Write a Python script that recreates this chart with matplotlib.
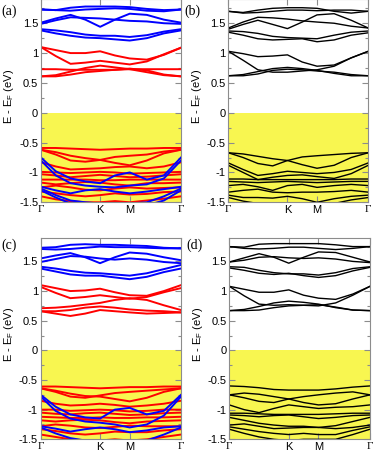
import numpy as np
import matplotlib
matplotlib.use('Agg')
from matplotlib import pyplot as plt
from matplotlib.ticker import MultipleLocator

# k-path sample positions (Γ-K-M-Γ) and labels
kpts = [0.0, 0.1667, 0.3333, 0.5, 0.6667, 0.8333, 1.0, 1.1925, 1.385, 1.5774]
kticks = [0.0, 0.6667, 1.0, 1.5774]
klabels = ['Γ', 'K', 'M', 'Γ']
yticks = [-1.5, -1, -0.5, 0, 0.5, 1, 1.5]
yticklabels = ['-1.5', '-1', '-0.5', '0', '0.5', '1', '1.5']
panel_tags = ['(a)', '(b)', '(c)', '(d)']

# ---- panel (a) ----
a_blue = [
    [1.73, 1.72, 1.76, 1.78, 1.78, 1.78, 1.77, 1.74, 1.72, 1.73],
    [1.73, 1.72, 1.71, 1.73, 1.74, 1.75, 1.74, 1.71, 1.70, 1.73],
    [1.51, 1.58, 1.64, 1.56, 1.44, 1.56, 1.66, 1.64, 1.56, 1.51],
    [1.49, 1.55, 1.60, 1.59, 1.58, 1.56, 1.54, 1.53, 1.50, 1.49],
    [1.40, 1.38, 1.35, 1.31, 1.29, 1.29, 1.27, 1.30, 1.36, 1.40],
    [1.38, 1.33, 1.29, 1.26, 1.25, 1.23, 1.21, 1.25, 1.33, 1.38],
    [-0.75, -0.98, -1.10, -1.15, -1.18, -1.05, -1.00, -1.12, -1.05, -0.75],
    [-0.80, -1.05, -1.18, -1.22, -1.24, -1.25, -1.22, -1.20, -1.10, -0.80],
    [-1.24, -1.30, -1.35, -1.30, -1.28, -1.32, -1.35, -1.32, -1.28, -1.24],
    [-1.27, -1.38, -1.47, -1.50, -1.52, -1.52, -1.52, -1.50, -1.40, -1.27],
    [-1.30, -1.42, -1.52, -1.55, -1.55, -1.55, -1.55, -1.55, -1.47, -1.30],
]
a_red = [
    [1.10, 1.05, 1.00, 1.00, 1.03, 0.96, 0.91, 0.89, 0.97, 1.09],
    [1.10, 0.95, 0.82, 0.84, 0.87, 0.84, 0.81, 0.86, 0.98, 1.09],
    [0.73, 0.73, 0.72, 0.72, 0.72, 0.72, 0.73, 0.73, 0.73, 0.73],
    [0.61, 0.63, 0.69, 0.75, 0.79, 0.76, 0.73, 0.68, 0.63, 0.61],
    [0.61, 0.61, 0.64, 0.68, 0.70, 0.72, 0.74, 0.71, 0.64, 0.61],
    [-0.59, -0.59, -0.60, -0.61, -0.62, -0.61, -0.60, -0.60, -0.59, -0.59],
    [-0.62, -0.66, -0.72, -0.76, -0.79, -0.84, -0.88, -0.80, -0.68, -0.62],
    [-0.62, -0.70, -0.80, -0.82, -0.79, -0.74, -0.72, -0.70, -0.65, -0.62],
    [-0.83, -0.90, -0.95, -0.94, -0.93, -0.91, -0.90, -0.93, -0.90, -0.83],
    [-0.99, -1.00, -1.01, -1.00, -0.99, -1.00, -1.02, -1.01, -1.00, -0.99],
    [-1.03, -1.05, -1.08, -1.06, -1.04, -1.06, -1.08, -1.07, -1.05, -1.03],
    [-1.12, -1.12, -1.12, -1.12, -1.13, -1.13, -1.12, -1.12, -1.12, -1.12],
    [-1.17, -1.20, -1.18, -1.16, -1.17, -1.20, -1.22, -1.18, -1.18, -1.17],
    [-1.25, -1.22, -1.25, -1.29, -1.30, -1.27, -1.25, -1.27, -1.26, -1.25],
    [-1.32, -1.35, -1.38, -1.40, -1.38, -1.35, -1.37, -1.36, -1.33, -1.32],
    [-1.40, -1.45, -1.48, -1.50, -1.50, -1.48, -1.50, -1.47, -1.44, -1.40],
]

# ---- panel (b) ----
b_black = [
    [1.70, 1.68, 1.72, 1.75, 1.76, 1.76, 1.75, 1.70, 1.67, 1.70],
    [1.70, 1.67, 1.68, 1.70, 1.72, 1.72, 1.71, 1.72, 1.72, 1.70],
    [1.42, 1.52, 1.60, 1.59, 1.57, 1.54, 1.52, 1.50, 1.45, 1.42],
    [1.40, 1.48, 1.55, 1.48, 1.41, 1.52, 1.64, 1.66, 1.55, 1.42],
    [1.37, 1.36, 1.33, 1.28, 1.26, 1.25, 1.24, 1.30, 1.35, 1.37],
    [1.35, 1.30, 1.24, 1.22, 1.23, 1.24, 1.19, 1.22, 1.30, 1.34],
    [1.03, 0.99, 0.94, 0.95, 0.97, 0.85, 0.78, 0.80, 0.92, 1.03],
    [1.03, 0.88, 0.72, 0.68, 0.68, 0.70, 0.72, 0.78, 0.92, 1.03],
    [0.62, 0.64, 0.69, 0.74, 0.76, 0.74, 0.71, 0.66, 0.62, 0.62],
    [0.62, 0.62, 0.65, 0.71, 0.73, 0.72, 0.70, 0.68, 0.64, 0.62],
    [-0.67, -0.69, -0.73, -0.77, -0.80, -0.87, -0.93, -0.88, -0.75, -0.67],
    [-0.67, -0.75, -0.85, -0.89, -0.80, -0.74, -0.72, -0.70, -0.68, -0.67],
    [-0.84, -0.95, -1.05, -1.02, -0.98, -1.00, -1.02, -1.00, -0.95, -0.84],
    [-0.88, -1.00, -1.12, -1.08, -1.05, -1.04, -1.07, -1.10, -1.02, -0.88],
    [-1.11, -1.11, -1.12, -1.12, -1.12, -1.12, -1.12, -1.12, -1.11, -1.11],
    [-1.15, -1.16, -1.17, -1.16, -1.15, -1.16, -1.17, -1.16, -1.15, -1.15],
    [-1.22, -1.20, -1.24, -1.30, -1.22, -1.20, -1.25, -1.22, -1.20, -1.22],
    [-1.33, -1.30, -1.28, -1.33, -1.34, -1.33, -1.33, -1.32, -1.30, -1.33],
    [-1.38, -1.42, -1.42, -1.43, -1.40, -1.44, -1.50, -1.44, -1.40, -1.38],
    [-1.42, -1.48, -1.52, -1.55, -1.55, -1.55, -1.55, -1.52, -1.46, -1.42],
]

# ---- panel (c) ----
c_blue = [
    [1.73, 1.74, 1.78, 1.79, 1.78, 1.78, 1.77, 1.76, 1.73, 1.72],
    [1.71, 1.70, 1.71, 1.73, 1.75, 1.74, 1.74, 1.73, 1.72, 1.72],
    [1.55, 1.60, 1.64, 1.57, 1.47, 1.57, 1.65, 1.63, 1.57, 1.52],
    [1.49, 1.54, 1.59, 1.58, 1.55, 1.53, 1.55, 1.53, 1.49, 1.47],
    [1.41, 1.38, 1.34, 1.31, 1.30, 1.28, 1.26, 1.30, 1.37, 1.44],
    [1.38, 1.33, 1.28, 1.26, 1.26, 1.23, 1.20, 1.24, 1.32, 1.38],
    [-0.75, -0.95, -1.08, -1.13, -1.15, -1.00, -0.97, -1.08, -1.02, -0.75],
    [-0.78, -1.02, -1.15, -1.20, -1.22, -1.25, -1.30, -1.25, -1.10, -0.78],
    [-1.28, -1.32, -1.37, -1.33, -1.30, -1.33, -1.38, -1.35, -1.30, -1.28],
    [-1.30, -1.40, -1.48, -1.52, -1.52, -1.52, -1.52, -1.52, -1.42, -1.30],
]
c_red = [
    [1.10, 1.05, 1.00, 1.01, 1.04, 0.98, 0.93, 0.92, 1.00, 1.10],
    [1.07, 0.97, 0.88, 0.90, 0.93, 0.90, 0.87, 0.90, 0.98, 1.05],
    [0.71, 0.72, 0.74, 0.77, 0.80, 0.85, 0.88, 0.85, 0.76, 0.68],
    [0.66, 0.62, 0.58, 0.62, 0.68, 0.66, 0.64, 0.62, 0.63, 0.64],
    [0.66, 0.66, 0.68, 0.72, 0.74, 0.72, 0.69, 0.67, 0.66, 0.64],
    [-0.61, -0.61, -0.62, -0.63, -0.64, -0.63, -0.62, -0.62, -0.61, -0.61],
    [-0.64, -0.68, -0.73, -0.77, -0.78, -0.82, -0.86, -0.80, -0.70, -0.64],
    [-0.64, -0.70, -0.78, -0.80, -0.76, -0.72, -0.70, -0.68, -0.66, -0.64],
    [-0.85, -0.90, -0.93, -0.92, -0.90, -0.92, -0.95, -0.93, -0.90, -0.85],
    [-1.00, -1.00, -1.02, -1.01, -1.00, -1.01, -1.03, -1.02, -1.00, -1.00],
    [-1.05, -1.07, -1.08, -1.06, -1.05, -1.07, -1.09, -1.08, -1.06, -1.05],
    [-1.12, -1.13, -1.14, -1.14, -1.13, -1.14, -1.14, -1.13, -1.13, -1.12],
    [-1.18, -1.20, -1.18, -1.17, -1.18, -1.21, -1.23, -1.20, -1.19, -1.18],
    [-1.28, -1.25, -1.27, -1.30, -1.31, -1.29, -1.27, -1.28, -1.28, -1.28],
    [-1.33, -1.36, -1.40, -1.42, -1.40, -1.37, -1.38, -1.38, -1.35, -1.33],
    [-1.42, -1.46, -1.50, -1.52, -1.52, -1.50, -1.52, -1.50, -1.46, -1.42],
]

# ---- panel (d) ----
d_black = [
    [1.75, 1.74, 1.79, 1.80, 1.80, 1.80, 1.80, 1.78, 1.75, 1.75],
    [1.75, 1.72, 1.71, 1.72, 1.74, 1.74, 1.72, 1.70, 1.72, 1.75],
    [1.49, 1.56, 1.63, 1.57, 1.47, 1.57, 1.66, 1.65, 1.57, 1.49],
    [1.49, 1.52, 1.57, 1.58, 1.56, 1.55, 1.56, 1.54, 1.50, 1.48],
    [1.41, 1.40, 1.35, 1.31, 1.29, 1.29, 1.27, 1.31, 1.38, 1.41],
    [1.39, 1.35, 1.30, 1.28, 1.30, 1.26, 1.23, 1.26, 1.34, 1.40],
    [1.08, 1.03, 0.98, 0.98, 1.02, 0.93, 0.88, 0.86, 0.95, 1.08],
    [1.08, 0.92, 0.78, 0.76, 0.77, 0.76, 0.75, 0.80, 0.93, 1.08],
    [0.67, 0.69, 0.74, 0.80, 0.83, 0.81, 0.78, 0.72, 0.68, 0.67],
    [0.67, 0.67, 0.68, 0.72, 0.75, 0.76, 0.77, 0.73, 0.68, 0.67],
    [-0.60, -0.61, -0.63, -0.66, -0.67, -0.67, -0.67, -0.65, -0.62, -0.60],
    [-0.75, -0.80, -0.86, -0.88, -0.82, -0.78, -0.75, -0.72, -0.70, -0.75],
    [-0.75, -0.72, -0.74, -0.78, -0.82, -0.88, -0.92, -0.90, -0.82, -0.75],
    [-0.92, -1.00, -1.05, -0.98, -0.92, -0.95, -0.98, -0.96, -0.95, -0.92],
    [-1.06, -1.06, -1.07, -1.08, -1.08, -1.08, -1.08, -1.07, -1.06, -1.06],
    [-1.09, -1.10, -1.12, -1.10, -1.09, -1.12, -1.15, -1.13, -1.10, -1.09],
    [-1.13, -1.18, -1.23, -1.26, -1.28, -1.28, -1.30, -1.27, -1.20, -1.13],
    [-1.26, -1.24, -1.28, -1.32, -1.31, -1.30, -1.30, -1.32, -1.30, -1.26],
    [-1.29, -1.33, -1.37, -1.40, -1.42, -1.40, -1.42, -1.42, -1.35, -1.29],
    [-1.33, -1.40, -1.46, -1.50, -1.52, -1.50, -1.50, -1.50, -1.42, -1.33],
]

plt.rcParams['font.family'] = ['Liberation Sans', 'DejaVu Sans']
plt.rcParams['mathtext.default'] = 'regular'
plt.rcParams['axes.unicode_minus'] = False

yellow = '#f8f650'
frame = '#8c8c8c'

fig = plt.figure(figsize=(3.74, 4.55), dpi=100)
# axes rectangles [left, bottom, width, height] in figure fraction
rects = [[0.1096, 0.5554, 0.3743, 0.4460],
         [0.6104, 0.5554, 0.3743, 0.4460],
         [0.1089, 0.0345, 0.3750, 0.4431],
         [0.6131, 0.0345, 0.3762, 0.4431]]
panels = [[(a_red, 'red'), (a_blue, 'blue')],
          [(b_black, 'black')],
          [(c_red, 'red'), (c_blue, 'blue')],
          [(d_black, 'black')]]
tag_pos = [(0.005, 0.975), (0.492, 0.975), (0.005, 0.461), (0.497, 0.461)]

for i in range(4):
    ax = fig.add_axes(rects[i])
    ax.axhspan(-1.6, 0, color=yellow, lw=0, zorder=0)
    for bands, col in panels[i]:
        lw = 1.0 if col == 'black' else 1.4
        for b in bands:
            ax.plot(kpts, b, color=col, lw=lw, zorder=2,
                    solid_joinstyle='round')
    ax.set_xlim(kpts[0], kpts[-1])
    ax.set_ylim(-1.5, 1.9)
    ax.set_xticks(kticks)
    ax.set_xticklabels(klabels)
    for t in ax.get_xticklabels():
        if t.get_text() == 'Γ':
            t.set_fontfamily('Liberation Serif')
    ax.set_yticks(yticks)
    ax.set_yticklabels(yticklabels)
    ax.yaxis.set_minor_locator(MultipleLocator(0.25))
    ax.tick_params(which='both', direction='in', top=True, right=True,
                   color=frame, labelsize=8, pad=2)
    ax.tick_params(which='major', length=4, width=0.8)
    ax.tick_params(which='minor', length=2, width=0.8)
    for s in ax.spines.values():
        s.set_color(frame)
        s.set_linewidth(0.8)
    ax.set_ylabel('E - E$_F$ (eV)', fontsize=8)
    ax.yaxis.set_label_coords(-0.175, 0.52)
    fig.text(tag_pos[i][0], tag_pos[i][1], panel_tags[i], fontsize=10,
             family='Liberation Serif', va='center', ha='left')

plt.savefig('out.png', dpi=100)
